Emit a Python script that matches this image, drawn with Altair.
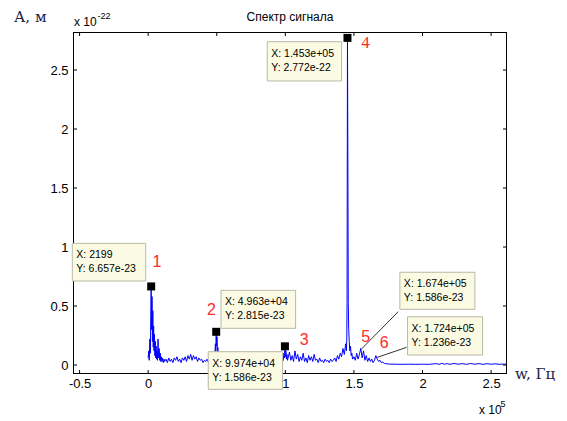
import altair as alt
import pandas as pd

# ---------------- data (x in units of 1e5 Hz, y in units of 1e-22 m) ----------------
freq = [
    0.000, 0.004, 0.008, 0.012, 0.016, 0.019, 0.022, 0.025, 0.028, 0.031,
    0.034, 0.037, 0.040, 0.043, 0.046, 0.049, 0.052, 0.055, 0.058, 0.061,
    0.064, 0.068, 0.072, 0.076, 0.080, 0.084, 0.088, 0.092, 0.096, 0.100,
    0.105, 0.110, 0.115, 0.120,
    0.13, 0.14, 0.15, 0.16, 0.17, 0.18, 0.19, 0.20, 0.21, 0.22,
    0.23, 0.24, 0.25, 0.26, 0.27, 0.28, 0.29, 0.30, 0.31, 0.32,
    0.33, 0.34, 0.35, 0.36, 0.37, 0.38, 0.39, 0.40, 0.41, 0.42,
    0.43, 0.44, 0.45, 0.46, 0.47, 0.48,
    0.486, 0.490, 0.493, 0.496, 0.499, 0.502, 0.505, 0.508, 0.512, 0.516, 0.520,
    0.530, 0.545, 0.560, 0.575, 0.590, 0.605, 0.620, 0.635, 0.650, 0.665,
    0.680, 0.695, 0.710, 0.725, 0.740, 0.755, 0.770, 0.785, 0.800, 0.815,
    0.830, 0.845, 0.860, 0.875, 0.890, 0.905, 0.920, 0.935, 0.950, 0.965,
    0.980,
    0.985, 0.990, 0.994, 0.997, 1.000, 1.004, 1.008, 1.012, 1.016,
    1.02, 1.03, 1.04, 1.05, 1.06, 1.07, 1.08, 1.09, 1.10, 1.11,
    1.12, 1.13, 1.14, 1.15, 1.16, 1.17, 1.18, 1.19, 1.20, 1.21,
    1.22, 1.23, 1.24, 1.25, 1.26, 1.27, 1.28, 1.29, 1.30, 1.31,
    1.32, 1.33, 1.34, 1.35, 1.36, 1.37, 1.38, 1.39, 1.40, 1.41,
    1.42, 1.43, 1.44,
    1.445, 1.448, 1.450, 1.453, 1.456, 1.459, 1.462, 1.466, 1.470, 1.475,
    1.480, 1.485, 1.490,
    1.50, 1.51, 1.52, 1.53, 1.54, 1.55, 1.56, 1.57, 1.58, 1.59,
    1.60, 1.61, 1.62, 1.63, 1.64, 1.65, 1.66, 1.67, 1.68, 1.69,
    1.70, 1.71, 1.72,
    1.73, 1.76, 1.80, 1.85, 1.90, 1.95, 2.00, 2.05, 2.10, 2.12,
    2.14, 2.16, 2.18, 2.20, 2.23, 2.26, 2.29, 2.32, 2.35, 2.38,
    2.41, 2.44, 2.47, 2.50, 2.53, 2.56, 2.59, 2.615,
]
amp = [
    0.06, 0.12, 0.04, 0.22, 0.10, 0.42, 0.666, 0.30, 0.58, 0.20,
    0.46, 0.15, 0.33, 0.12, 0.26, 0.08, 0.20, 0.06, 0.16, 0.05,
    0.12, 0.04, 0.22, 0.06, 0.14, 0.04, 0.10, 0.03, 0.07, 0.03,
    0.06, 0.02, 0.05, 0.03,
    0.05, 0.02, 0.06, 0.03, 0.05, 0.02, 0.06, 0.04, 0.07, 0.03,
    0.05, 0.02, 0.06, 0.04, 0.07, 0.03, 0.08, 0.05, 0.09, 0.04,
    0.08, 0.05, 0.07, 0.03, 0.06, 0.04, 0.05, 0.02, 0.04, 0.03,
    0.05, 0.02, 0.04, 0.03, 0.05, 0.04,
    0.08, 0.18, 0.12, 0.2815, 0.16, 0.24, 0.10, 0.15, 0.05, 0.08, 0.03,
    0.04, 0.02, 0.05, 0.03, 0.06, 0.02, 0.04, 0.03, 0.05, 0.02,
    0.04, 0.03, 0.06, 0.02, 0.04, 0.03, 0.05, 0.02, 0.04, 0.03,
    0.05, 0.02, 0.04, 0.03, 0.05, 0.02, 0.04, 0.03, 0.05, 0.02,
    0.03,
    0.04, 0.10, 0.06, 0.1586, 0.07, 0.12, 0.05, 0.09, 0.04,
    0.06, 0.11, 0.04, 0.08, 0.03, 0.12, 0.05, 0.09, 0.03, 0.07,
    0.04, 0.10, 0.03, 0.06, 0.02, 0.08, 0.04, 0.07, 0.03, 0.09,
    0.04, 0.05, 0.02, 0.06, 0.03, 0.04, 0.02, 0.05, 0.03, 0.04,
    0.02, 0.05, 0.03, 0.04, 0.06, 0.03, 0.08, 0.05, 0.10, 0.07,
    0.14, 0.09, 0.18,
    0.12, 0.22, 0.55, 2.772, 1.72, 0.52, 0.30, 0.20, 0.12, 0.16,
    0.08, 0.10, 0.05,
    0.07, 0.04, 0.10, 0.05, 0.09, 0.14, 0.06, 0.12, 0.04, 0.08,
    0.03, 0.06, 0.03, 0.05, 0.02, 0.04, 0.08, 0.05, 0.03, 0.04,
    0.02, 0.025, 0.015,
    0.012, 0.008, 0.007, 0.006, 0.007, 0.006, 0.007, 0.006, 0.012, 0.006,
    0.014, 0.007, 0.012, 0.006, 0.013, 0.007, 0.012, 0.006, 0.013, 0.007,
    0.012, 0.006, 0.011, 0.007, 0.010, 0.006, 0.008, 0.006,
]

x_ticks = [-0.5, 0, 0.5, 1, 1.5, 2, 2.5]
y_ticks = [0, 0.5, 1, 1.5, 2, 2.5]

# data tips (text and box extents in data units)
tip_x_text = ["X: 2199", "X: 4.963e+04", "X: 9.974e+04", "X: 1.453e+05", "X: 1.674e+05", "X: 1.724e+05"]
tip_y_text = ["Y: 6.657e-23", "Y: 2.815e-23", "Y: 1.586e-23", "Y: 2.772e-22", "Y: 1.586e-23", "Y: 1.236e-23"]
tip_left = [-0.553, 0.531, 0.438, 0.868, 1.835, 1.891]
tip_right = [-0.018, 1.075, 0.980, 1.410, 2.382, 2.438]
tip_top = [1.031, 0.633, 0.113, 2.740, 0.786, 0.409]
tip_bottom = [0.712, 0.311, -0.206, 2.407, 0.472, 0.085]

marker_x = [0.022, 0.496, 0.997, 1.453]
marker_y = [0.666, 0.2815, 0.1586, 2.772]

num_text = ["1", "2", "3", "5", "6"]
num_x = [0.064, 0.461, 1.138, 1.586, 1.720]
num_y = [0.875, 0.469, 0.212, 0.240, 0.188]
four_x = [1.584]
four_y = [2.725]

callout_x1 = [1.823, 1.884]
callout_y1 = [0.452, 0.150]
callout_x2 = [1.551, 1.670]
callout_y2 = [0.131, 0.065]

# ---------------- chart ----------------
W, H = 434, 342
SANS = "Liberation Sans, Arial, sans-serif"
SERIF = "DejaVu Serif, serif"
xs = alt.Scale(domain=[-0.548, 2.616], nice=False, zero=False)
ys = alt.Scale(domain=[-0.076, 2.822], nice=False, zero=False)

AX = alt.Axis(values=x_ticks, ticks=False, domain=False, grid=False, title=None,
              labelExpr="toString(datum.value)", labelFont=SANS, labelFontSize=13,
              labelColor="black", labelPadding=3, labelFlush=False, labelOverlap=False, zindex=0)
AY = alt.Axis(values=y_ticks, ticks=False, domain=False, grid=False, title=None,
              labelExpr="toString(datum.value)", labelFont=SANS, labelFontSize=13,
              labelColor="black", labelPadding=5, labelFlush=False, labelOverlap=False, zindex=0)
X = lambda f: alt.X(f, type="quantitative", scale=xs, axis=AX)
Y = lambda f: alt.Y(f, type="quantitative", scale=ys, axis=AY)

spec_df = pd.DataFrame({"f": freq, "a": amp})
xt_df = pd.DataFrame({"v": x_ticks})
yt_df = pd.DataFrame({"v": y_ticks})
one_df = pd.DataFrame({"k": [0]})

line = alt.Chart(spec_df).mark_line(color="#0000ff", strokeWidth=1).encode(
    x=X("f"), y=Y("a"), order="f:Q")

# plot frame (box on), drawn on pixel centres for crisp lines
frame = [
    alt.Chart(one_df).mark_rule(color="black", strokeWidth=1).encode(
        x=alt.value(0.5), x2=alt.value(W - 0.5), y=alt.value(0.5)),
    alt.Chart(one_df).mark_rule(color="black", strokeWidth=1).encode(
        x=alt.value(0.5), x2=alt.value(W - 0.5), y=alt.value(H - 0.5)),
    alt.Chart(one_df).mark_rule(color="black", strokeWidth=1).encode(
        x=alt.value(0.5), y=alt.value(0), y2=alt.value(H)),
    alt.Chart(one_df).mark_rule(color="black", strokeWidth=1).encode(
        x=alt.value(W - 0.5), y=alt.value(0), y2=alt.value(H)),
]

tick_layers = [
    alt.Chart(xt_df).mark_rule(color="black", strokeWidth=1).encode(x=X("v"), y=alt.value(H), y2=alt.value(H - 4)),
    alt.Chart(xt_df).mark_rule(color="black", strokeWidth=1).encode(x=X("v"), y=alt.value(0), y2=alt.value(4)),
    alt.Chart(yt_df).mark_rule(color="black", strokeWidth=1).encode(y=Y("v"), x=alt.value(0), x2=alt.value(4)),
    alt.Chart(yt_df).mark_rule(color="black", strokeWidth=1).encode(y=Y("v"), x=alt.value(W), x2=alt.value(W - 4)),
]

call_df = pd.DataFrame({"x1": callout_x1, "y1": callout_y1, "x2": callout_x2, "y2": callout_y2})
callouts = alt.Chart(call_df).mark_rule(color="black", strokeWidth=0.8).encode(
    x=X("x1"), y=Y("y1"), x2="x2", y2="y2")

mk_df = pd.DataFrame({"x": marker_x, "y": marker_y})
markers = alt.Chart(mk_df).mark_square(color="black", size=64, opacity=1, filled=True).encode(x=X("x"), y=Y("y"))

tip_df = pd.DataFrame({"l": tip_left, "r": tip_right, "t": tip_top, "b": tip_bottom,
                       "tx": tip_x_text, "ty": tip_y_text})
boxes = alt.Chart(tip_df).mark_rect(fill="#fbfbe4", stroke="#b9b9a6", strokeWidth=1).encode(
    x=X("l"), x2="r", y=Y("t"), y2="b")
tip_txt_x = alt.Chart(tip_df).mark_text(align="left", baseline="middle", dx=4, dy=12,
                                        font=SANS, fontSize=10.5, color="black").encode(
    x=X("l"), y=Y("t"), text="tx:N")
tip_txt_y = alt.Chart(tip_df).mark_text(align="left", baseline="middle", dx=4, dy=26,
                                        font=SANS, fontSize=10.5, color="black").encode(
    x=X("l"), y=Y("t"), text="ty:N")

num_df = pd.DataFrame({"x": num_x, "y": num_y, "t": num_text})
nums = alt.Chart(num_df).mark_text(align="center", baseline="middle", font=SANS, fontSize=16,
                                   color="#ff2a2a").encode(x=X("x"), y=Y("y"), text="t:N")
four_df = pd.DataFrame({"x": four_x, "y": four_y, "t": ["4"]})
four = alt.Chart(four_df).mark_text(align="center", baseline="middle", font="Liberation Serif, serif",
                                    fontSize=17, color="#ff2a2a").encode(x=X("x"), y=Y("y"), text="t:N")


def deco(text, px, py, **kw):
    return alt.Chart(pd.DataFrame({"t": [text]})).mark_text(**kw).encode(
        x=alt.value(px), y=alt.value(py), text="t:N")


decos = [
    deco("Спектр сигнала", 217, -15, align="center", baseline="middle", font=SANS, fontSize=12, color="black"),
    deco("А, м", -59, -15, align="left", baseline="middle", font=SERIF, fontSize=15, color="#22224a"),
    deco("w, Гц", 442, 342, align="left", baseline="middle", font=SERIF, fontSize=15, color="#22224a"),
    deco("x 10", 1, -10, align="left", baseline="middle", font=SANS, fontSize=12, color="black"),
    deco("-22", 24.5, -16.5, align="left", baseline="middle", font=SANS, fontSize=9, color="black"),
    deco("x 10", 406, 378, align="left", baseline="middle", font=SANS, fontSize=12, color="black"),
    deco("5", 427.5, 372, align="left", baseline="middle", font=SANS, fontSize=9, color="black"),
]

chart = alt.layer(
    line, *frame, *tick_layers, callouts, markers, boxes, tip_txt_x, tip_txt_y, nums, four, *decos
).properties(
    width=W, height=H,
    padding={"left": 65, "top": 24, "right": 52, "bottom": 44},
    autosize=alt.AutoSizeParams(type="none"),
    background="white",
).configure_view(strokeWidth=0)

chart.save("out.html", embed_options={"renderer": "svg", "actions": False})
